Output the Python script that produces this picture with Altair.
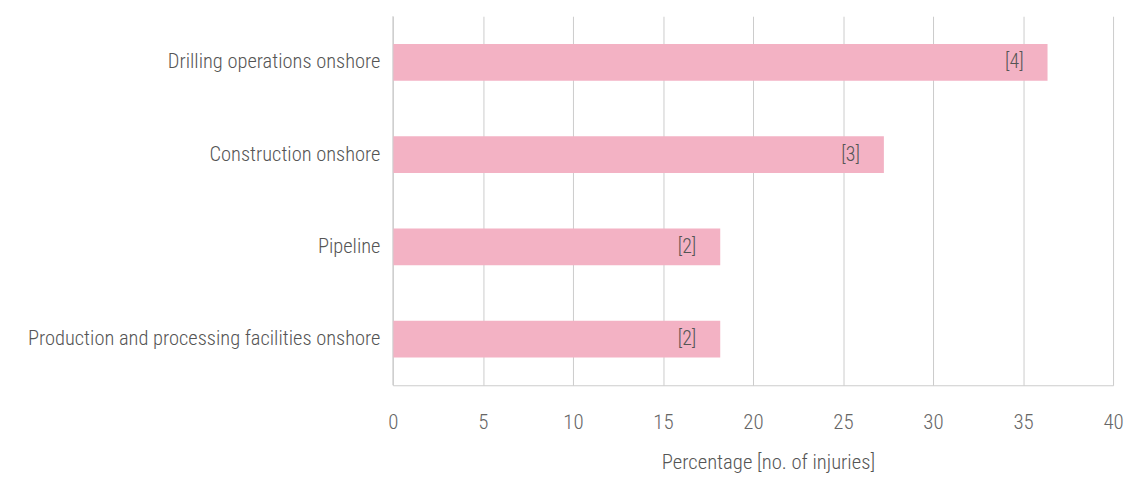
import altair as alt
import pandas as pd

categories = [
    "Drilling operations onshore",
    "Construction onshore",
    "Pipeline",
    "Production and processing facilities onshore",
]
percentages = [36.36, 27.27, 18.18, 18.18]
injuries = [4, 3, 2, 2]
x_ticks = [0, 5, 10, 15, 20, 25, 30, 35, 40]

df = pd.DataFrame({
    "category": categories,
    "pct": percentages,
    "label": [f"[{n}]" for n in injuries],
})

FONT = "Roboto Condensed, Liberation Sans Narrow, DejaVu Sans Condensed, sans-serif"

base = alt.Chart(df)

bars = base.mark_bar(color="#F3B2C4").encode(
    y=alt.Y(
        "category:N",
        sort=categories,
        title=None,
        scale=alt.Scale(paddingInner=0.6, paddingOuter=0.3),
        axis=alt.Axis(
            ticks=False, domain=False, labelPadding=13,
            labelFontSize=20.6, labelColor="#555555", labelFont=FONT,
            labelFontWeight=300, labelLimit=400, grid=False,
        ),
    ),
    x=alt.X(
        "pct:Q",
        title="Percentage [no. of injuries]",
        scale=alt.Scale(domain=[0, 40], nice=False),
        axis=alt.Axis(
            values=x_ticks, ticks=False, domain=True, domainColor="#cccccc",
            grid=True, gridColor="#cccccc", gridWidth=1,
            labelPadding=26, labelFontSize=21, labelColor="#666666",
            labelFont=FONT, labelFontWeight=300, labelFlush=False,
            titleFont=FONT, titleFontSize=20.8, titleFontWeight=300,
            titleColor="#555555", titlePadding=21, titleX=377,
        ),
    ),
)

texts = base.mark_text(
    align="right", baseline="middle", dx=-24, fontSize=20,
    color="#555555", font=FONT, fontWeight=300,
).encode(
    y=alt.Y("category:N", sort=categories),
    x="pct:Q",
    text="label:N",
)

zero_rule = alt.Chart(pd.DataFrame({"x": [0]})).mark_rule(
    color="#cccccc", strokeWidth=1
).encode(x="x:Q")

chart = (bars + texts + zero_rule).properties(
    width=724,
    height=371,
    autosize=alt.AutoSizeParams(type="none"),
    padding={"left": 387, "top": 7, "right": 12, "bottom": 100},
).configure_view(stroke=None)

chart.save("out.html", embed_options={"renderer": "svg", "actions": False})
